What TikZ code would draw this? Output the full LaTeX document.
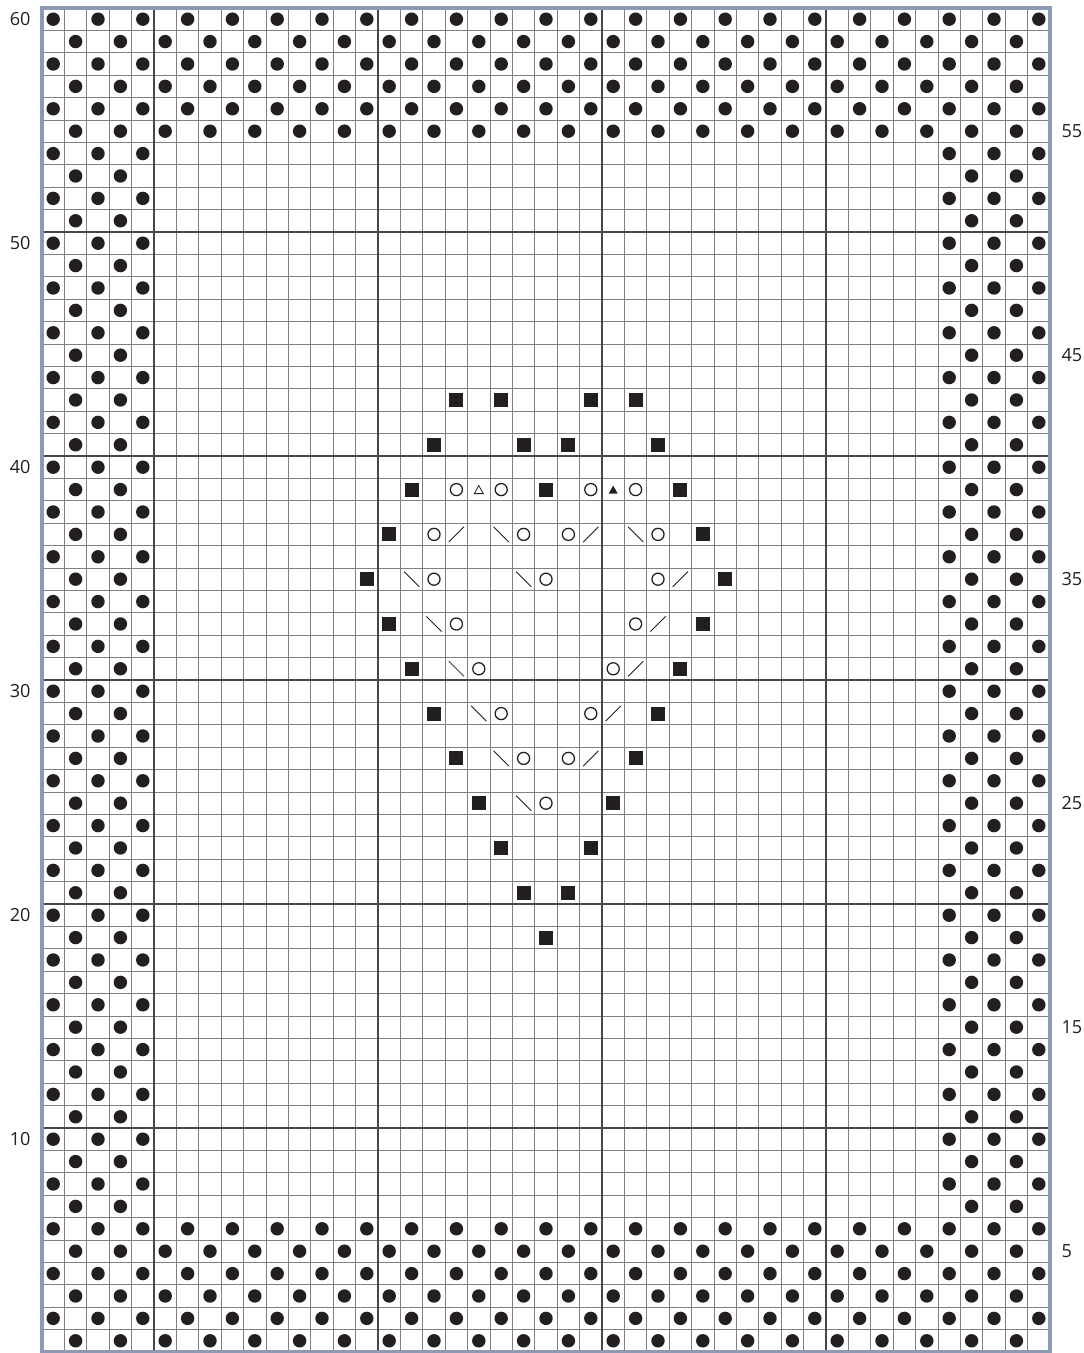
\documentclass[tikz,border=0pt]{standalone}
\usepackage{fontspec}
\setmainfont{Open Sans}
\definecolor{framecol}{HTML}{8B9AB7}
\definecolor{ink}{HTML}{231F20}
\begin{document}
\begin{tikzpicture}[x=.5cm,y=.5cm,font=\fontsize{11.5}{13}\selectfont,
  thingrid/.style={line width=.6pt,black!50},
  thickgrid/.style={line width=1.3pt,black!72},
  yo/.style={draw=ink,line width=.8pt},
  dec/.style={draw=ink,line width=.55pt}]
\path[use as bounding box] (-1.875,-.045) rectangle (46.518,60.357);
\fill[white] (-1.875,-.045) rectangle (46.518,60.357);
\foreach \i in {1,...,44}{\draw[thingrid] (\i,0) -- (\i,60);}
\foreach \j in {1,...,59}{\draw[thingrid] (0,\j) -- (45,\j);}
\foreach \i in {5,15,25,35}{\draw[thickgrid] (\i,0) -- (\i,60);}
\foreach \j in {10,20,...,50}{\draw[thickgrid] (0,\j) -- (45,\j);}
\draw[framecol,line width=3pt] (0,0) rectangle (45,60);
% seed stitch border
\foreach \r in {1,...,60}{\foreach \c in {1,...,45}{
  \pgfmathtruncatemacro\edge{(\r<7)||(\r>54)||(\c<6)||(\c>40)}
  \ifnum\edge=1 \ifodd\numexpr\r+\c\relax
    \fill[ink] (\c-.5,\r-.5) circle (.3);
  \fi\fi}}
% motif
\foreach \c/\r in {19/43,21/43,25/43,27/43,18/41,22/41,24/41,28/41,17/39,23/39,29/39,
  16/37,30/37,15/35,31/35,16/33,30/33,17/31,29/31,18/29,28/29,19/27,27/27,
  20/25,26/25,21/23,25/23,22/21,24/21,23/19}{\fill[ink] (\c-.81,\r-.81) rectangle ++(.62,.62);}
\foreach \c/\r in {19/39,21/39,25/39,27/39,18/37,22/37,24/37,28/37,18/35,23/35,28/35,
  19/33,27/33,20/31,26/31,21/29,25/29,22/27,24/27,23/25}{\draw[yo] (\c-.5,\r-.5) circle (.27);}
\foreach \c/\r in {19/37,25/37,29/35,28/33,27/31,26/29,25/27}{\draw[dec] (\c-.84,\r-.84) -- (\c-.16,\r-.16);}
\foreach \c/\r in {21/37,27/37,17/35,22/35,18/33,19/31,20/29,21/27,22/25}{\draw[dec] (\c-.84,\r-.16) -- (\c-.16,\r-.84);}
\draw[ink,line width=.5pt] (19.3,38.32) -- (19.7,38.32) -- (19.5,38.68) -- cycle;
\fill[ink] (25.3,38.32) -- (25.7,38.32) -- (25.5,38.68) -- cycle;
% row numbers
\foreach \r in {10,20,...,60}{\node[anchor=east,inner sep=0,text=ink] (left\r) at (-.5,\r-.5) {\r};}
\foreach \r in {5,15,...,55}{\node[anchor=west,inner sep=0,text=ink] (right\r) at (45.5,\r-.5) {\r};}
\end{tikzpicture}
\end{document}
